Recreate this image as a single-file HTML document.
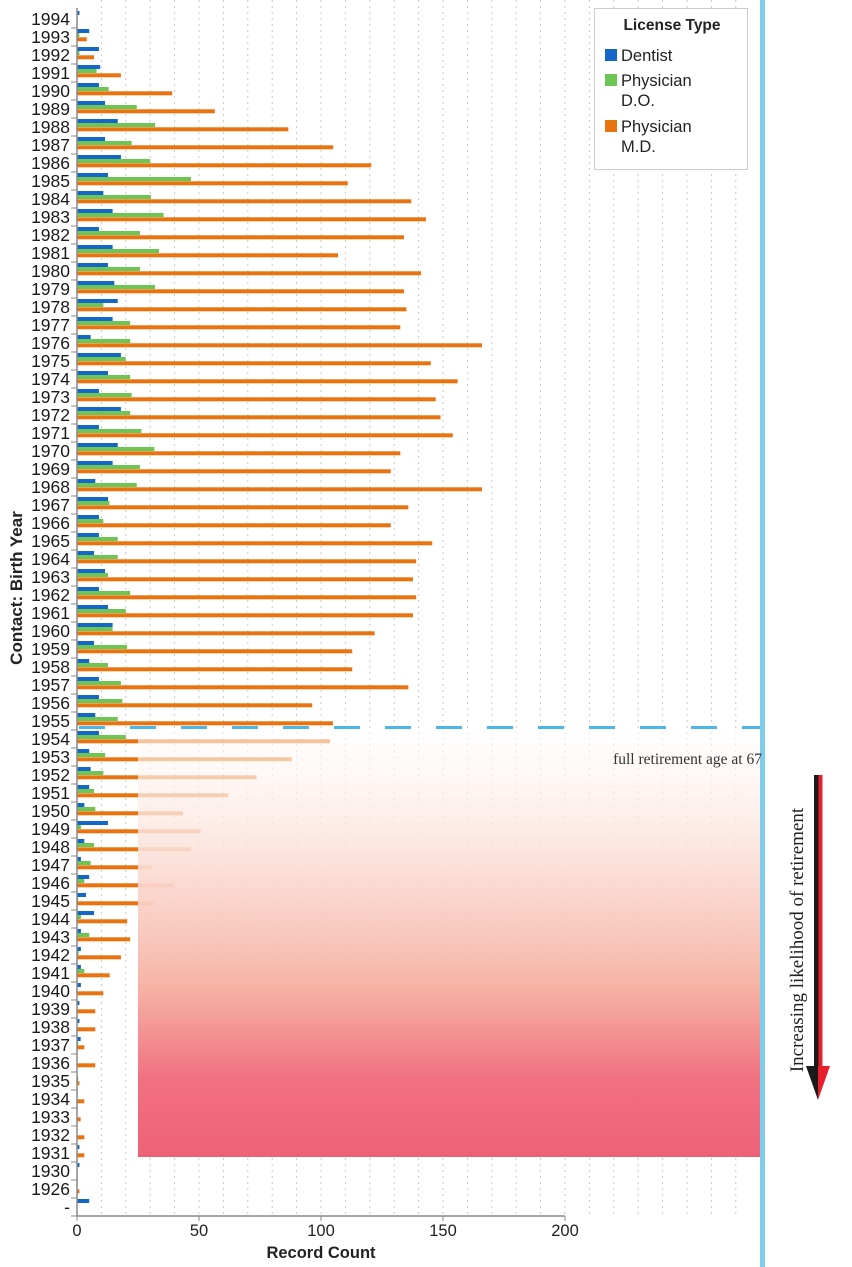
<!DOCTYPE html>
<html><head><meta charset="utf-8"><style>
html,body{margin:0;padding:0;background:#fff;}
svg{display:block;}
text{font-family:"Liberation Sans",Arial,sans-serif;}
</style></head><body>
<svg id="chart" width="852" height="1267" viewBox="0 0 852 1267" xmlns="http://www.w3.org/2000/svg">
<defs>
<linearGradient id="retGrad" x1="0" y1="0" x2="0" y2="1">
<stop offset="0" stop-color="#ffffff" stop-opacity="0.55"/>
<stop offset="0.3" stop-color="#fbe0d8" stop-opacity="0.9"/>
<stop offset="0.6" stop-color="#f6b4a6" stop-opacity="1"/>
<stop offset="0.82" stop-color="#f07080" stop-opacity="1"/>
<stop offset="1" stop-color="#ee6277" stop-opacity="1"/>
</linearGradient>
</defs>
<g id="grid"></g>
<g id="bars"></g>
<rect x="138" y="729" width="624" height="428" fill="url(#retGrad)"/>
<g id="axes"></g>
<line x1="77" y1="727.5" x2="762" y2="727.5" stroke="#4cb6e6" stroke-width="3" stroke-dasharray="26,25" stroke-dashoffset="-2"/>
<rect x="760" y="0" width="5" height="1267" fill="#80cdec"/>
<text x="762" y="764" text-anchor="end" style="font-family:'Liberation Serif',serif" font-size="15.5" fill="#333">full retirement age at 67</text>
<text transform="translate(803,940) rotate(-90)" text-anchor="middle" style="font-family:'Liberation Serif',serif" font-size="19" fill="#222">Increasing likelihood of  retirement</text>
<g>
<rect x="814" y="775" width="4.5" height="300" fill="#1a1a1a"/>
<rect x="818.5" y="775" width="4" height="300" fill="#e8202d"/>
<polygon points="806,1066 818,1066 818,1100" fill="#1a1a1a"/>
<polygon points="818,1066 830,1066 818,1100" fill="#e8202d"/>
</g>
<g>
<rect x="594.5" y="8.5" width="153" height="161" fill="#fff" stroke="#ccc"/>
<text x="672" y="30" text-anchor="middle" font-size="15.5" font-weight="bold" fill="#222">License Type</text>
<rect x="605" y="49" width="12" height="12" fill="#1467c8"/>
<text x="621" y="61" font-size="16.5" fill="#222">Dentist</text>
<rect x="605" y="74" width="12" height="12" fill="#6cc653"/>
<text x="621" y="86" font-size="16.5" fill="#222">Physician</text>
<text x="621" y="106" font-size="16.5" fill="#222">D.O.</text>
<rect x="605" y="120" width="12" height="12" fill="#e8730f"/>
<text x="621" y="132" font-size="16.5" fill="#222">Physician</text>
<text x="621" y="152" font-size="16.5" fill="#222">M.D.</text>
</g>
</svg>
<script>
const categories = ["1994","1993","1992","1991","1990","1989","1988","1987","1986","1985","1984","1983","1982","1981","1980","1979","1978","1977","1976","1975","1974","1973","1972","1971","1970","1969","1968","1967","1966","1965","1964","1963","1962","1961","1960","1959","1958","1957","1956","1955","1954","1953","1952","1951","1950","1949","1948","1947","1946","1945","1944","1943","1942","1941","1940","1939","1938","1937","1936","1935","1934","1933","1932","1931","1930","1926","-"];
const dentist = [1,5,9,9.5,9,11.5,16.7,11.5,18,12.7,10.8,14.6,9,14.6,12.7,15.3,16.7,14.6,5.6,18,12.7,9,18,9,16.7,14.6,7.5,12.7,9,9,7,11.5,9,12.7,14.6,7,5,9,9,7.5,9,5,5.6,5,3,12.7,3,1.6,5,3.7,7,1.6,1.6,1.6,1.6,1,1,1.5,0,0,0,0,0,1,1,0,5];
const physicianDO = [0,1,1,8,13,24.5,32,22.4,30,46.7,30.3,35.5,25.8,33.6,25.8,32,10.8,21.8,21.8,20,21.8,22.4,21.8,26.4,31.7,25.8,24.5,13.3,10.8,16.7,16.7,12.7,21.8,20,14.6,20.5,12.7,18,18.6,16.7,20,11.5,10.8,7,7.5,1.6,7,5.6,3,0.5,1.6,5,0.7,3,0,0,0,0.5,0,0.5,0,0,0,0,0,0,0];
const physicianMD = [0,4,7,18,39,56.5,86.6,105,120.6,111,137,143,134,107,141,134,135,132.5,166,145,156,147,149,154,132.5,128.6,166,135.8,128.6,145.6,139,137.7,139,137.7,122,112.8,112.8,135.8,96.4,104.9,103.7,88,73.6,62,43.4,50.7,46.7,30.5,39.6,31.7,20.6,21.8,18,13.4,10.8,7.5,7.5,3,7.5,1,3,1.5,3,3,0,1,0];
const xTicks = [0,50,100,150,200];

const NS = "http://www.w3.org/2000/svg";
const X0 = 77, PXU = 2.44, ROW = 18, TOP0 = 10;
function xs(v){ return X0 + v*PXU; }
function rowTop(i){ return TOP0 + ROW*i; }
function mk(tag, attrs, parent){
  const e = document.createElementNS(NS, tag);
  for (const k in attrs) e.setAttribute(k, attrs[k]);
  parent.appendChild(e);
  return e;
}
const grid = document.getElementById('grid');
const bars = document.getElementById('bars');
const axes = document.getElementById('axes');
const axisBottom = rowTop(categories.length);

for (let v = 10; v <= 280; v += 10) {
  const gx = xs(v);
  if (gx > 758) break;
  const l = mk('line', {x1:gx, y1:0, x2:gx, y2:axisBottom, stroke:'#c8c8c8', 'stroke-width':1, 'stroke-dasharray':'2,4'}, grid);
  
  
}

const series = [
  {vals: dentist, color:'#1467c8', off:1, name:'bar-dentist'},
  {vals: physicianDO, color:'#6cc653', off:5, name:'bar-physician-do'},
  {vals: physicianMD, color:'#e8730f', off:9.3, name:'bar-physician-md'}
];
categories.forEach((c, i) => {
  series.forEach(s => {
    const v = s.vals[i];
    if (v <= 0) return;
    const y = rowTop(i) + s.off;
    const r = mk('rect', {x:X0, y:y, width:v*PXU, height:4, fill:s.color}, bars);
    
    
  });
  const t = mk('text', {x:70, y:rowTop(i)+15, 'text-anchor':'end', 'font-size':17.5, fill:'#1a1a1a'}, axes);
  t.textContent = c;
  
  
  const tk = mk('line', {x1:71, y1:rowTop(i)+18, x2:77, y2:rowTop(i)+18, stroke:'#888', 'stroke-width':1}, axes);
  
  
});

const ya = mk('line', {x1:X0, y1:8, x2:X0, y2:axisBottom, stroke:'#888', 'stroke-width':1.5}, axes);


const xa = mk('line', {x1:X0, y1:axisBottom, x2:xs(200), y2:axisBottom, stroke:'#888', 'stroke-width':1.5}, axes);


xTicks.forEach(v => {
  const tk = mk('line', {x1:xs(v), y1:axisBottom, x2:xs(v), y2:axisBottom+5, stroke:'#888'}, axes);
  
  
  const t = mk('text', {x:xs(v), y:axisBottom+20, 'text-anchor':'middle', 'font-size':16.5, fill:'#222'}, axes);
  t.textContent = v;
  
  
});
const xt = mk('text', {x:xs(100), y:axisBottom+42, 'text-anchor':'middle', 'font-size':16.5, 'font-weight':'bold', fill:'#222'}, axes);
xt.textContent = 'Record Count';


const yt = mk('text', {transform:'translate(22,588) rotate(-90)', 'text-anchor':'middle', 'font-size':17, 'font-weight':'bold', fill:'#222'}, axes);
yt.textContent = 'Contact: Birth Year';


</script>
</body></html>
